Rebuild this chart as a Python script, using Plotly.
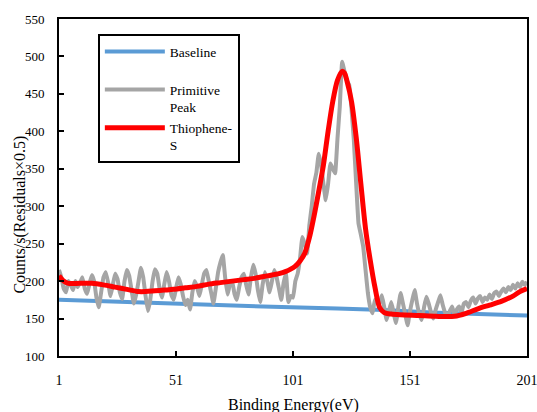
import plotly.graph_objects as go

# ---------------- data ----------------
x_primitive = list(range(1, 202))
y_primitive = [
    215, 205, 190, 185, 200, 195, 188, 200, 192, 198,
    205, 190, 183, 196, 208, 200, 178, 165, 185, 205,
    212, 198, 180, 195, 210, 203, 185, 176, 200, 215,
    207, 188, 170, 182, 200, 218, 205, 180, 160, 175,
    200, 216, 210, 190, 178, 196, 212, 200, 182, 175,
    190, 205, 196, 180, 168, 175, 162, 185, 200, 192,
    180, 195, 210, 215, 200, 185, 170, 190, 212, 225,
    235, 205, 182, 195, 200, 183, 175, 192, 205, 210,
    195, 182, 205, 222, 210, 188, 172, 195, 212, 200,
    185, 200, 215, 205, 190, 175, 198, 210, 172, 180,
    178, 200, 210, 230, 259, 250, 237, 275, 300, 330,
    345, 370, 355, 330, 308, 330, 357, 350, 344, 390,
    433, 493, 480, 468, 462, 430, 388, 330, 277, 262,
    246, 215, 184, 165, 157, 175, 172, 170, 181, 165,
    148, 160, 172, 158, 144, 165, 184, 170, 155, 141,
    160, 175, 188, 170, 156, 148, 165, 179, 170, 158,
    150, 162, 172, 181, 168, 158, 153, 160, 166, 155,
    162, 166, 158, 170, 172, 165, 174, 178, 170, 177,
    180, 172, 178, 175, 182, 176, 184, 186, 180, 186,
    190, 185, 192, 188, 195, 190, 197, 192, 199, 195,
    199,
]

x_fit = [1, 3, 5, 10, 15, 20, 25, 30, 35, 38, 42, 46, 50, 55, 60, 65, 70, 75,
         80, 85, 90, 95, 98, 100, 102, 104, 106, 108, 110, 112, 114, 116, 118,
         120, 122, 123, 124, 126, 128, 130, 132, 134, 136, 138, 140, 143, 147,
         155, 162, 170, 175, 180, 185, 190, 195, 198, 201]
y_fit = [207, 200, 197, 197, 197, 195, 192, 189, 186, 186, 187, 188, 189, 191,
         193, 196, 198, 200, 202, 204, 207, 210, 213, 216, 220, 227, 237, 258,
         287, 320, 355, 400, 440, 468, 480, 478, 468, 440, 392, 330, 270, 228,
         192, 165, 158, 156, 155, 154, 153, 153, 157, 163, 168, 173, 180, 186,
         190]

x_base = [1, 20, 40, 60, 80, 100, 120, 140, 160, 180, 201]
y_base = [175, 173, 170, 168, 166.5, 165, 163.5, 161.5, 158, 156, 154]

x_ticks = [1, 51, 101, 151, 201]
y_ticks = [100, 150, 200, 250, 300, 350, 400, 450, 500, 550]

names = ["Baseline<br> ", "Primitive<br>Peak", "Thiophene-<br>S"]

FONT = "Times New Roman, Liberation Serif, DejaVu Serif, serif"

fig = go.Figure()
fig.add_trace(go.Scatter(x=x_base, y=y_base, mode="lines", name=names[0],
                         line=dict(color="#5B9BD5", width=4)))
fig.add_trace(go.Scatter(x=x_primitive, y=y_primitive, mode="lines", name=names[1],
                         line=dict(color="#A5A5A5", width=4, shape="spline",
                                   smoothing=0.3)))
fig.add_trace(go.Scatter(x=x_fit, y=y_fit, mode="lines", name=names[2],
                         line=dict(color="#FF0000", width=5, shape="spline",
                                   smoothing=0.8)))

fig.update_layout(
    width=537, height=412,
    margin=dict(l=59, r=10, t=19, b=56, autoexpand=False),
    plot_bgcolor="white", paper_bgcolor="white",
    font=dict(family=FONT, color="black", size=12),
    showlegend=True,
    legend=dict(x=0.083, y=0.955, xanchor="left", yanchor="top",
                bordercolor="black", borderwidth=2, bgcolor="white",
                font=dict(family=FONT, size=13.5, color="black"),
                valign="top", itemwidth=60, tracegroupgap=0,
                entrywidth=80, entrywidthmode="pixels",
                traceorder="normal"),
    xaxis=dict(range=[1, 201], tickvals=x_ticks, ticktext=[str(v) for v in x_ticks],
               ticks="inside", ticklen=5, tickwidth=2, tickcolor="black",
               showline=True, linecolor="black", linewidth=2, mirror=True,
               showgrid=False, zeroline=False, ticklabelstandoff=10,
               automargin=False, ticklabeloverflow="allow",
               tickfont=dict(family=FONT, size=14)),
    yaxis=dict(range=[100, 550], tickvals=y_ticks,
               ticks="inside", ticklen=5, tickwidth=2, tickcolor="black",
               showline=True, linecolor="black", linewidth=2, mirror=True,
               showgrid=False, zeroline=False, ticklabelstandoff=10,
               automargin=False,
               tickfont=dict(family=FONT, size=13)),
    annotations=[
        dict(text="Counts/s(Residuals×0.5)", xref="paper", yref="paper",
             x=-0.083, y=0.42, xanchor="center", yanchor="middle",
             textangle=-90, showarrow=False,
             font=dict(family=FONT, size=16, color="black")),
        dict(text="Binding Energy(eV)", xref="paper", yref="paper",
             x=0.502, y=-0.145, xanchor="center", yanchor="middle",
             showarrow=False, font=dict(family=FONT, size=16, color="black")),
    ],
)

fig.write_html("out.html")
